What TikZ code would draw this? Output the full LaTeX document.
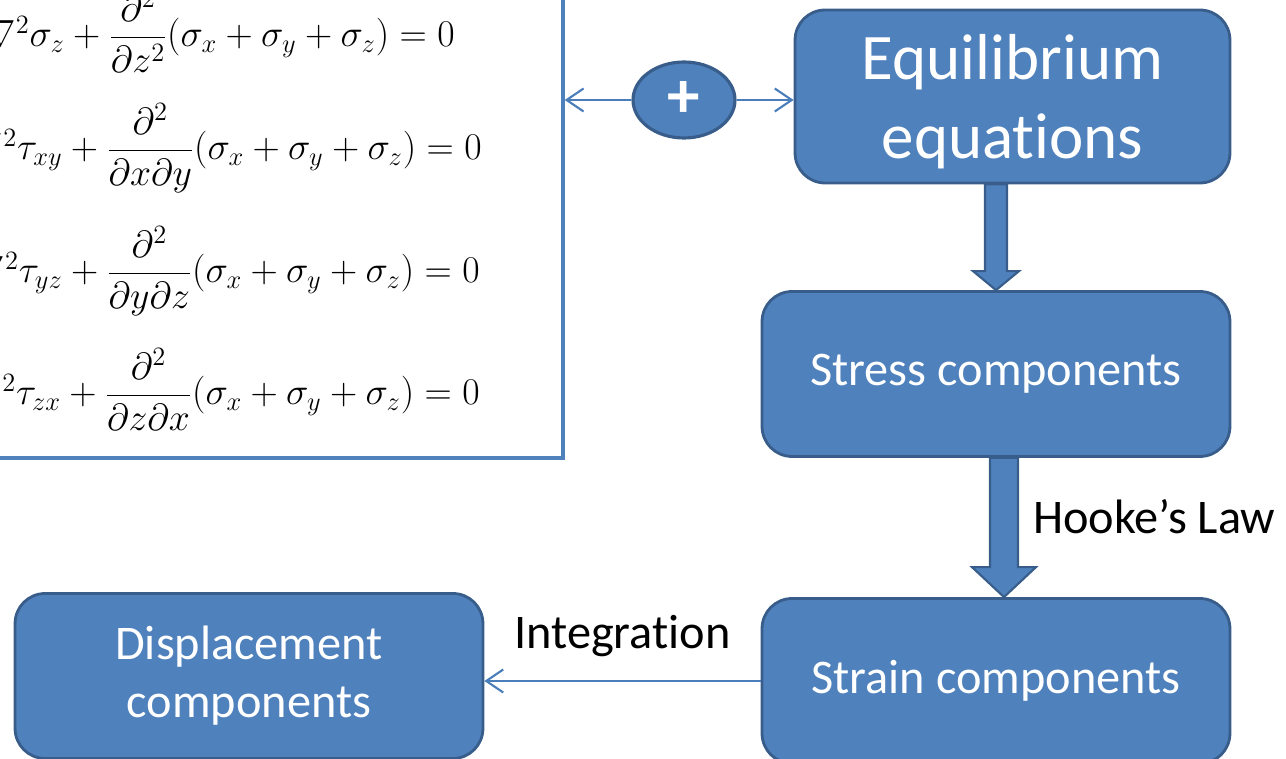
\RequirePackage{fix-cm}
\documentclass[tikz,border=0pt]{standalone}
\usepackage{amsmath}
\usepackage{fontspec}
\setmainfont[Ligatures=CommonOff]{Carlito}
\definecolor{boxblue}{HTML}{4F81BD}
\definecolor{boxedge}{HTML}{385D8A}
\definecolor{linkblue}{HTML}{4A7EBB}
\usetikzlibrary{arrows.meta,positioning,shapes.geometric,calc}

\begin{document}
\begin{tikzpicture}[
  x=0.02cm, y=-0.02cm,
  fbox/.style={rectangle, rounded corners=0.6cm, draw=boxedge, fill=boxblue,
    line width=1.6pt, text=white, align=center, minimum width=9.36cm,
    minimum height=3.3cm, font=\fontsize{27.5}{33}\selectfont},
  eqn/.style={inner sep=0pt, anchor=base east, font=\fontsize{21.5}{26}\selectfont},
  lbl/.style={inner sep=0pt, text=black, font=\fontsize{27.5}{33}\selectfont},
  link/.style={draw=linkblue, line width=1.2pt,
    -{Straight Barb[length=0.34cm,width=0.46cm]}},
  blockarrow/.style={fill=boxblue, draw=boxedge, line width=1.2pt, line join=miter}
]
  \useasboundingbox (0,0) rectangle (1286,759);
  \clip (0,0) rectangle (1286,759);

  % compatibility equations (cut at the left)
  \node[rectangle, draw=boxblue, line width=2pt, minimum width=12.06cm,
    minimum height=9.96cm] (eqbox) at (261.5,209) {};
  \node[eqn] (eq1) at (455,47)
    {$(1+\nu)\nabla^2\sigma_z+\dfrac{\partial^2}{\partial z^2}(\sigma_x+\sigma_y+\sigma_z)=0$};
  \node[eqn] (eq2) at (482,160)
    {$(1+\nu)\nabla^2\tau_{xy}+\dfrac{\partial^2}{\partial x\partial y}(\sigma_x+\sigma_y+\sigma_z)=0$};
  \node[eqn] (eq3) at (480,283)
    {$(1+\nu)\nabla^2\tau_{yz}+\dfrac{\partial^2}{\partial y\partial z}(\sigma_x+\sigma_y+\sigma_z)=0$};
  \node[eqn] (eq4) at (480,405)
    {$(1+\nu)\nabla^2\tau_{zx}+\dfrac{\partial^2}{\partial z\partial x}(\sigma_x+\sigma_y+\sigma_z)=0$};

  % flow boxes
  \node[ellipse, draw=boxedge, fill=boxblue, line width=1.8pt, text=white,
    minimum width=2.04cm, minimum height=1.52cm,
    font=\fontsize{37}{40}\selectfont\bfseries] (plus) at (684,100) {+};
  \node[fbox, minimum width=8.7cm, minimum height=3.46cm,
    font=\fontsize{37}{45}\selectfont] (equil) at (1012.5,96.5)
    {\rule{0pt}{1.12cm}Equilibrium\\equations};
  \node[fbox] (stress) at (996,374) {Stress components};
  \node[fbox] (strain) at (996,681) {Strain components};
  \node[fbox] (displ) at (249,676) {Displacement\\components};

  % connectors
  \draw[link] (plus.west) -- (plus.west -| eqbox.east);
  \draw[link] (plus.east) -- (plus.east -| equil.west);
  \draw[link] (strain.west) -- (strain.west -| displ.east)
    node[lbl, midway, above=0.46cm] (integ) {Integration};

  \coordinate (a1s) at (stress.north |- equil.south);
  \coordinate (a1e) at (stress.north);
  \filldraw[blockarrow] ($(a1s)+(-0.22cm,0)$) -- ($(a1e)+(-0.22cm,0.38cm)$)
    -- ($(a1e)+(-0.46cm,0.38cm)$) -- (a1e) -- ($(a1e)+(0.46cm,0.38cm)$)
    -- ($(a1e)+(0.22cm,0.38cm)$) -- ($(a1s)+(0.22cm,0)$) -- cycle;

  \coordinate (a2s) at ($(stress.south)+(0.16cm,0)$);
  \coordinate (a2e) at ($(strain.north)+(0.16cm,0)$);
  \filldraw[blockarrow] ($(a2s)+(-0.28cm,0)$) -- ($(a2e)+(-0.28cm,0.6cm)$)
    -- ($(a2e)+(-0.64cm,0.6cm)$) -- (a2e) -- ($(a2e)+(0.64cm,0.6cm)$)
    -- ($(a2e)+(0.28cm,0.6cm)$) -- ($(a2s)+(0.28cm,0)$) -- cycle;
  \node[lbl, anchor=west] (hooke) at ($(a2s)!0.42!(a2e)+(0.58cm,0)$) {Hooke’s Law};
\end{tikzpicture}
\end{document}
